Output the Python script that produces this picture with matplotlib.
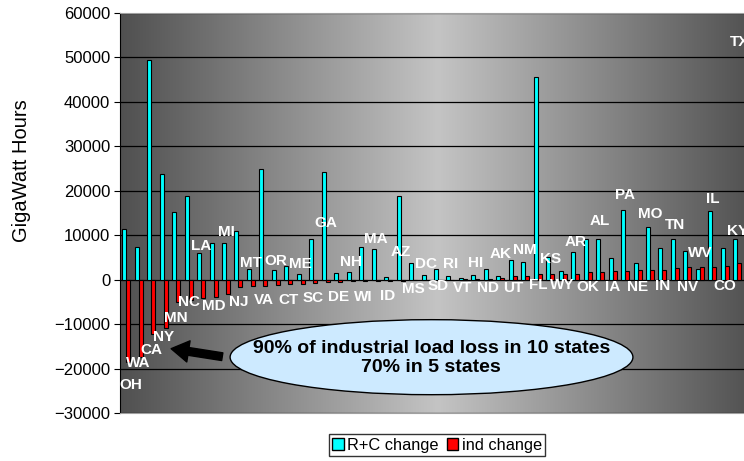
import numpy as np
import matplotlib
matplotlib.use("Agg")
import matplotlib.pyplot as plt
from matplotlib.patches import Ellipse, Patch
from matplotlib.colors import LinearSegmentedColormap

plt.rcParams["font.family"] = ["Liberation Sans", "DejaVu Sans"]

# states sorted by industrial load change (GWh)
states = ["OH", "WA", "CA", "NY", "MN", "NC", "LA", "MD", "MI", "NJ",
          "MT", "VA", "OR", "CT", "ME", "SC", "GA", "DE", "NH", "WI",
          "MA", "ID", "AZ", "MS", "DC", "SD", "RI", "VT", "HI", "ND",
          "AK", "UT", "NM", "FL", "KS", "WY", "AR", "OK", "AL", "IA",
          "PA", "NE", "MO", "IN", "TN", "NV", "WV", "IL", "CO", "KY", "TX"]

rc_change = [11400, 7280, 49440, 23780, 15230, 18750, 6000, 8200, 8200, 11030,
             2400, 24830, 2100, 3000, 1280, 9150, 24230, 1500, 1730, 7350,
             6980, 600, 18750, 3750, 1050, 2400, 750, 300, 1050, 2400,
             750, 4500, 3980, 45600, 5100, 1950, 6230, 9230, 9230, 4880,
             15600, 3680, 11850, 7130, 9230, 6530, 2400, 15450, 7050, 9150, 55000]

ind_change = [-18580, -17450, -12190, -10900, -5040, -4660, -4140, -3910, -3160, -1730,
              -1500, -1350, -1130, -1000, -980, -750, -600, -450, -300, -250,
              -250, -200, -200, -150, -100, -50, -50, 50, 150, 250,
              400, 750, 900, 1200, 1200, 1280, 1350, 1730, 1730, 1950,
              1950, 2180, 2250, 2250, 2630, 2780, 2850, 2930, 3080, 3750, 5000]

# where each state name sits (GWh on the y axis)
label_y = [-23600, -18750, -15750, -12900, -8600, -5100, 7650, -5850, 10700, -5100,
           3750, -4650, 4100, -4650, 3500, -4100, 12750, -4000, 3900, -4000,
           9150, -3600, 6150, -2100, 3500, -1500, 3500, -1900, 3750, -1900,
           5850, -1900, 6600, -1100, 4650, -1100, 8500, -1650, 13100, -1650,
           19100, -1650, 14850, -1350, 12200, -1650, 6000, 18200, -1350, 11000, 53400]

x = np.arange(len(states))
label_x = x.astype(float)
label_x[0] = 0.4    # OH sits a little right of its bars
label_x[-1] = 49.2  # TX name is pulled in from the right edge

fig = plt.figure(figsize=(7.44, 4.61), dpi=100)
ax = fig.add_axes([120 / 744, 48 / 461, 636 / 744, 400 / 461])

# grey plot-area gradient, light in the middle
cmap = LinearSegmentedColormap.from_list("bg", ["#505050", "#c4c4c4", "#505050"])
grad = np.linspace(0, 1, 512).reshape(1, -1)
ax.imshow(grad, cmap=cmap, aspect="auto", extent=[-0.5, len(states) - 0.5, -30000, 60000],
          zorder=0, interpolation="bicubic")

ax.set_xlim(-0.5, len(states) - 0.5)
ax.set_ylim(-30000, 60000)
ax.set_yticks(np.arange(-30000, 60001, 10000))
ax.tick_params(axis="y", direction="out", length=4, labelsize=12, pad=3)
ax.set_xticks([])
ax.set_axisbelow(True)
ax.yaxis.grid(True, color="black", linewidth=0.9)

for side in ["top", "bottom", "right"]:
    ax.spines[side].set_color("#a0a0a0")
ax.spines["left"].set_color("black")

w = 0.32
ax.bar(x - 0.16, rc_change, width=w, color="#00ffff", edgecolor="black", linewidth=0.8, zorder=2)
ax.bar(x + 0.16, ind_change, width=w, color="#ff0000", edgecolor="black", linewidth=0.8, zorder=2)

for xi, name, yl in zip(label_x, states, label_y):
    ax.text(xi, yl, name, ha="center", va="center", color="white",
            fontsize=11, fontweight="bold", zorder=5, clip_on=False)

ax.set_ylabel("GigaWatt Hours", fontsize=14.5)
ax.yaxis.set_label_coords(-0.14, 0.607)

ell = Ellipse((24.48, -17440), 32.3, 16880, facecolor="#cdeaff", edgecolor="black",
              linewidth=1, zorder=4)
ax.add_patch(ell)
ax.text(24.45, -17600, "90% of industrial load loss in 10 states\n70% in 5 states",
        ha="center", va="center", multialignment="center", fontsize=14,
        fontweight="bold", color="black", zorder=5, linespacing=1.1)

ax.annotate("", xy=(3.6, -15530), xytext=(7.7, -17330),
            arrowprops=dict(arrowstyle="simple,head_length=0.9,head_width=1.1,tail_width=0.4",
                            color="black", mutation_scale=14, shrinkA=0, shrinkB=0),
            zorder=5)

handles = [Patch(facecolor="#00ffff", edgecolor="black"),
           Patch(facecolor="#ff0000", edgecolor="black")]
leg = fig.legend(handles, ["R+C change", "ind change"], loc="center",
                 bbox_to_anchor=(437 / 744, 1 - 445 / 461), ncol=2, fontsize=11.8,
                 frameon=True, fancybox=False, edgecolor="black", handlelength=0.7,
                 handleheight=0.7, handletextpad=0.2, columnspacing=0.5,
                 borderpad=0.2, borderaxespad=0)
leg.get_frame().set_linewidth(1)

fig.savefig("out.png", dpi=100)
